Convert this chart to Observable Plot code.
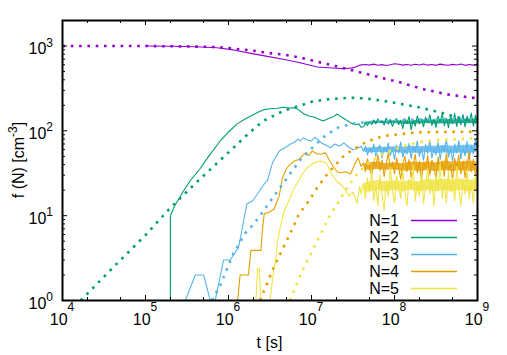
<!DOCTYPE html>
<html>
<head>
<meta charset="utf-8">
<script src="https://cdn.jsdelivr.net/npm/d3@7"></script>
<script src="https://cdn.jsdelivr.net/npm/@observablehq/plot@0.6"></script>
<style>
  html, body { margin: 0; padding: 0; background: #fff; }
  svg { display: block; }
</style>
</head>
<body>
<div id="chart"></div>
<script>
// ---------- data (x values are log10 of t in seconds) ----------
const seriesNames = ["N=1", "N=2", "N=3", "N=4", "N=5"];
const seriesColors = ["#9400d3", "#009e73", "#56b4e9", "#e69f00", "#f0e442"];

const xMajorExp = [4, 5, 6, 7, 8, 9];
const yMajorExp = [0, 1, 2, 3];

// simulation (solid) curves, early parts: [log10 t, f]
const n1Sim = [[5.0,1000],[5.3,995],[5.6,982],[5.86,955],[6.06,900],[6.27,820],[6.45,760],[6.66,697],[6.85,640],[7.07,566],[7.2,555],[7.3,548],[7.39,541],[7.45,548],[7.51,556],[7.57,590],[7.6,600],
  [7.65,605],[7.7,596],[7.75,612],[7.8,594],[7.85,604],[7.9,590],[7.95,602],[8.0,618],[8.05,610],[8.1,596],[8.15,606],[8.2,593],[8.25,610],[8.3,598],[8.35,614],[8.4,595],[8.45,605],[8.5,592],[8.55,612],[8.6,600],[8.65,594],[8.7,608],[8.75,597],[8.8,614],[8.85,592],[8.9,606],[8.95,596],[9.0,608]];
const n2Sim = [[5.3,1],[5.3,10],[5.35,13],[5.46,19.7],[5.54,26],[5.66,36],[5.76,50],[5.9,76],[6.0,97],[6.1,120],[6.2,138],[6.27,150],[6.35,165],[6.43,178],[6.5,182],[6.59,185],[6.66,190],[6.72,186],[6.79,187],[6.84,178],[6.91,158],[6.97,150],[7.03,146],[7.09,137],[7.14,131],[7.2,139],[7.26,146],[7.31,158],[7.35,148],[7.4,138],[7.47,125],[7.52,118],[7.57,121],[7.6,110]];
const n3Sim = [[5.48,1],[5.6,2],[5.7,2],[5.78,1],[5.84,1],[5.94,3],[6.02,3],[6.12,4.2],[6.16,6.6],[6.22,13.7],[6.29,15],[6.35,18],[6.43,23.6],[6.47,26],[6.53,42],[6.61,58],[6.69,64],[6.75,70],[6.79,73],[6.84,80],[6.87,76],[6.9,83],[6.95,78],[7.0,76],[7.04,84],[7.07,80],[7.12,72],[7.17,68],[7.23,63],[7.28,70],[7.34,66],[7.39,72],[7.44,65],[7.5,60],[7.55,62],[7.6,66]];
const n4Sim = [[6.11,1],[6.14,2],[6.24,2],[6.27,3.9],[6.39,3.9],[6.41,7],[6.43,10.5],[6.49,11],[6.55,12],[6.61,17],[6.65,28],[6.7,36],[6.75,41],[6.79,44],[6.85,46],[6.9,52],[6.93,55],[6.97,51],[7.01,58],[7.06,54],[7.11,53],[7.17,55],[7.21,46],[7.27,37],[7.31,33],[7.35,32],[7.41,33],[7.47,31],[7.52,40],[7.56,48],[7.6,38]];
const n5Sim = [[6.33,1],[6.35,2.4],[6.37,2.4],[6.39,1],[6.5,1],[6.55,2.5],[6.57,3],[6.59,4.9],[6.62,7],[6.67,11.4],[6.7,13],[6.75,17],[6.8,22],[6.85,26],[6.89,31],[6.95,37],[7.03,42],[7.11,44],[7.15,43],[7.19,40],[7.23,33],[7.27,28],[7.31,25],[7.35,23.6],[7.41,20],[7.45,17],[7.5,19],[7.55,14],[7.58,22],[7.6,18]];

// noisy tails of the simulations (N=2..5) on a shared log10 t grid
const tailLogT = [7.625,7.65,7.675,7.7,7.725,7.75,7.775,7.8,7.825,7.85,7.875,7.9,7.925,7.95,7.975,8.0,8.025,8.05,8.075,8.1,8.125,8.15,8.175,8.2,8.225,8.25,8.275,8.3,8.325,8.35,8.375,8.4,8.425,8.45,8.475,8.5,8.525,8.55,8.575,8.6,8.625,8.65,8.675,8.7,8.725,8.75,8.775,8.8,8.825,8.85,8.875,8.9,8.925,8.95,8.975,9.0];
const n2Tail = [112,122,116,128,119,134,121,138,125,131, 117,142,120,136,113,129,140,118,133,106, 139,122,147,103,135,114,150,121,138,112, 145,124,155,116,137,110,149,127,158,115, 141,109,152,123,160,113,146,118,156,111, 149,125,162,114,153,120];
const n3Tail = [58,66,52,63,55,70,50,61,68,48, 64,57,72,51,62,46,67,55,74,49, 60,53,71,47,65,56,76,50,63,45, 69,54,78,48,61,52,73,46,66,57, 80,49,62,44,70,55,77,47,64,51, 75,46,67,53,79,58];
const n4Tail = [42,33,47,36,30,44,38,52,34,45, 29,40,55,35,43,31,48,37,27,41, 50,33,46,28,39,53,32,44,26,42, 36,51,30,45,38,27,49,34,43,29, 54,35,40,26,47,37,52,31,44,28, 41,55,33,46,30,39];
const n5Tail = [24,16,28,19,34,15,22,13,30,18, 11.5,26,17,38,20,14,29,23,16,35, 19,13,27,21,40,15,24,17,32,14, 22,36,18,26,13,30,20,42,16,25, 14,33,19,28,15,38,21,13,27,18, 35,16,24,14,31,20];

// dense core of the noise in the tails (lower / upper edge), coarse log10 t grid
const bandLogT = [7.64,7.7,7.8,7.9,8.0,8.1,8.2,8.3,8.4,8.5,8.6,8.7,8.8,8.9,8.99];
const n2Low  = [120,120,122,121,122,120,118,121,122,120,121,120,122,121,122];
const n2High = [126,128,131,130,132,131,130,134,135,133,136,135,138,137,139];
const n3Low  = [56,55,56,55,56,54,55,54,56,54,55,54,55,54,56];
const n3High = [63,63,64,64,65,64,66,65,66,66,67,66,67,68,67];
const n4Low  = [35,34,35,34,35,33,34,33,34,33,34,33,34,33,34];
const n4High = [41,42,43,41,42,41,43,42,43,42,44,43,43,44,43];
const n5Low  = [19,19,20,19,20,19,20,19,20,19,20,19,20,19,20];
const n5High = [24,25,26,25,26,25,26,25,27,26,27,26,27,26,27];

// model (dotted) curves: [log10 t, f]
const n1Model = [[4,1000],[4.5,1000],[5,1000],[5.5,990],[5.86,973],[6.27,890],[6.47,830],[6.66,795],[6.87,728],[7.05,660],[7.25,593],[7.45,530],[7.65,472],[7.85,420],[8.05,377],[8.2,340],[8.35,310],[8.5,288],[8.63,270],[8.8,256],[8.94,246],[9,243]];
const n2Model = [[4.22,1],[4.6,2.4],[5.0,5.9],[5.28,11.8],[5.6,24],[6.02,58],[6.25,95],[6.42,131],[6.66,172],[6.87,200],[7.0,220],[7.19,235],[7.47,246],[7.67,240],[7.87,225],[8.07,208],[8.27,192],[8.55,165],[8.75,145],[9,124]];
const n3Model = [[5.8,1],[5.9,1.5],[6.06,3.6],[6.22,6.6],[6.3,7.8],[6.45,12.5],[6.6,20],[6.75,32],[6.87,46],[7.0,62],[7.15,85],[7.3,108],[7.5,122],[7.8,130],[8.2,135],[8.6,137],[9,138]];
const n4Model = [[6.38,1],[6.54,2.4],[6.66,4.2],[6.77,7],[6.85,10.5],[6.97,15],[7.07,21.5],[7.19,31],[7.33,44],[7.41,53],[7.51,61],[7.65,73],[7.75,80],[7.85,86],[7.95,89],[8.05,91],[8.27,96],[8.6,97],[9,98]];
const n5Model = [[6.74,1],[6.89,2.25],[7.03,4.2],[7.15,7.3],[7.23,10.5],[7.31,13.7],[7.41,20],[7.55,31],[7.7,43],[7.87,54],[7.95,58],[8.15,68],[8.35,75],[8.55,78],[8.76,80],[9,82]];

// ---------- build ----------
const zipTail = (vals) => tailLogT.map((t, i) => [t, vals[i]]).filter(d => d[1] != null);
const zipBand = (lo, hi) => bandLogT.map((t, i) => ({t, lo: lo[i], hi: hi[i]}));
const sims = [
  n1Sim,
  n2Sim.concat(zipTail(n2Tail)),
  n3Sim.concat(zipTail(n3Tail)),
  n4Sim.concat(zipTail(n4Tail)),
  n5Sim.concat(zipTail(n5Tail))
];
const bands = [null, zipBand(n2Low, n2High), zipBand(n3Low, n3High), zipBand(n4Low, n4High), zipBand(n5Low, n5High)];
const models = [n1Model, n2Model, n3Model, n4Model, n5Model];

const xMajor = xMajorExp.map(e => 10 ** e);
const xMinor = xMajorExp.slice(0, -1).flatMap(e => [2, 5].map(m => m * 10 ** e));
const yMajor = yMajorExp.map(e => 10 ** e);
const yMinor = yMajorExp.flatMap(e => [2,3,4,5,6,7,8,9].map(m => m * 10 ** e)).filter(v => v < 2000);

const W = 507, H = 355, mL = 62, mR = 30, mT = 20, mB = 55;
const iW = W - mL - mR, iH = H - mT - mB;
const majLen = 5, minLen = 3;

const X = d => 10 ** d[0], Y = d => d[1];

const marks = [];
sims.forEach((s, i) => {
  if (bands[i]) marks.push(Plot.areaY(bands[i], {x: d => 10 ** d.t, y1: "lo", y2: "hi", fill: seriesColors[i], fillOpacity: 0.8, clip: true}));
  marks.push(Plot.line(s, {x: X, y: Y, stroke: seriesColors[i], strokeWidth: 1.1, clip: true}));
});
models.forEach((s, i) => marks.push(Plot.line(s, {x: X, y: Y, stroke: seriesColors[i], strokeWidth: 2.6, strokeDasharray: "2.6,5.7", strokeLinecap: "butt", clip: true})));

marks.push(
  Plot.ruleX(xMajor, {insetTop: iH - majLen, stroke: "black", strokeWidth: 1}),
  Plot.ruleX(xMajor, {insetBottom: iH - majLen, stroke: "black", strokeWidth: 1}),
  Plot.ruleX(xMinor, {insetTop: iH - minLen, stroke: "black", strokeWidth: 1}),
  Plot.ruleX(xMinor, {insetBottom: iH - minLen, stroke: "black", strokeWidth: 1}),
  Plot.ruleY(yMajor, {insetRight: iW - majLen, stroke: "black", strokeWidth: 1}),
  Plot.ruleY(yMajor, {insetLeft: iW - majLen, stroke: "black", strokeWidth: 1}),
  Plot.ruleY(yMinor, {insetRight: iW - minLen, stroke: "black", strokeWidth: 1}),
  Plot.ruleY(yMinor, {insetLeft: iW - minLen, stroke: "black", strokeWidth: 1}),
  Plot.frame({stroke: "black", strokeWidth: 2})
);

const chart = Plot.plot({
  width: W, height: H,
  marginLeft: mL, marginRight: mR, marginTop: mT, marginBottom: mB,
  x: {type: "log", domain: [1e4, 1e9], axis: null},
  y: {type: "log", domain: [1, 2000], axis: null},
  style: {fontFamily: "'Liberation Sans', Arial, sans-serif", background: "white", overflow: "visible"},
  marks
});

const svg = d3.select(chart);
const xs = chart.scale("x"), ys = chart.scale("y");
const font = "'Liberation Sans', Arial, sans-serif";

// x tick labels
xMajorExp.forEach(e => {
  const t = svg.append("text").attr("x", xs.apply(10 ** e)).attr("y", H - mB + 24.5)
    .attr("text-anchor", "middle").attr("font-family", font).attr("font-size", 16).attr("fill", "black");
  t.append("tspan").text("10");
  t.append("tspan").attr("dy", -14).attr("font-size", 12).text(String(e));
});
// y tick labels
yMajorExp.forEach(e => {
  const t = svg.append("text").attr("x", mL - 9).attr("y", ys.apply(10 ** e) + 8.5)
    .attr("text-anchor", "end").attr("font-family", font).attr("font-size", 16).attr("fill", "black");
  t.append("tspan").text("10");
  t.append("tspan").attr("dy", -7.5).attr("font-size", 12).text(String(e));
});
// axis titles
svg.append("text").attr("x", mL + iW / 2).attr("y", 348).attr("text-anchor", "middle")
  .attr("font-family", font).attr("font-size", 16).attr("fill", "black").text("t [s]");
const yl = svg.append("text").attr("transform", `translate(24,${mT + iH / 2}) rotate(-90)`).attr("text-anchor", "middle")
  .attr("font-family", font).attr("font-size", 16).attr("fill", "black");
yl.append("tspan").text("f (N) [cm");
yl.append("tspan").attr("dy", -7).attr("font-size", 12).text("-3");
yl.append("tspan").attr("dy", 7).text("]");

// legend
seriesNames.forEach((name, i) => {
  const cy = 220.5 + i * 17;
  svg.append("text").attr("x", 399).attr("y", cy + 5.5).attr("text-anchor", "end")
    .attr("font-family", font).attr("font-size", 16).attr("fill", "black").text(name);
  svg.append("line").attr("x1", 411).attr("x2", 457).attr("y1", cy).attr("y2", cy)
    .attr("stroke", seriesColors[i]).attr("stroke-width", 1.5);
});

document.getElementById("chart").appendChild(chart);
</script>
</body>
</html>
